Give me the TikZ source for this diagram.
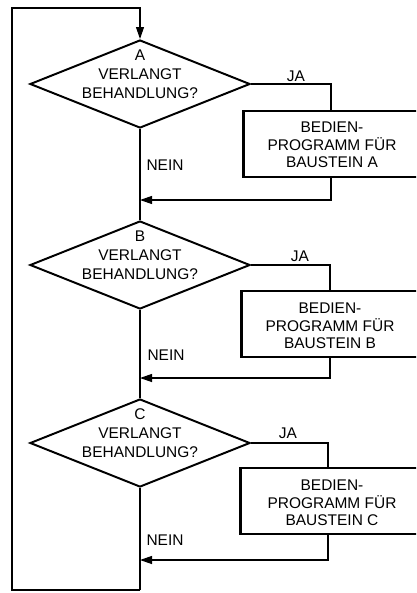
\documentclass[tikz,border=0pt]{standalone}
\usepackage{fontspec}
\setmainfont{Liberation Sans}
\usetikzlibrary{shapes.geometric,arrows.meta}

\begin{document}
\begin{tikzpicture}[
        x=0.025cm, y=-0.025cm,
        every node/.style={font=\fontsize{11}{12.5}\selectfont, align=center},
        decision/.style={draw, diamond, line width=1.4pt, minimum width=5.5cm, minimum height=2.2cm, inner sep=0pt},
        question/.style={font=\fontsize{11}{13.5}\selectfont},
        routine/.style={draw, rectangle, line width=2pt, minimum width=8cm, minimum height=1.65cm, anchor=west},
        flow/.style={draw, line width=0.85pt},
        into/.style={flow, -{Triangle[length=0.3cm, width=0.2cm]}},
    ]
    \useasboundingbox (0,0) rectangle (416,593);
    \clip (0,0) rectangle (416,593);

    % decisions
    \node[decision](qa) at (140,84){};
    \node[question](qatext) at (140,74){A\\VERLANGT\\BEHANDLUNG?};
    \node[decision](qb) at (140,265){};
    \node[question](qbtext) at (140,255){B\\VERLANGT\\BEHANDLUNG?};
    \node[decision](qc) at (140,443){};
    \node[question](qctext) at (140,433){C\\VERLANGT\\BEHANDLUNG?};

    % routines (right side runs off the page)
    \node[routine](ra) at (242,144){};
    \node(ratext) at (332,145){BEDIEN-\\PROGRAMM FÜR\\BAUSTEIN A};
    \node[routine](rb) at (240,324){};
    \node(rbtext) at (330,326){BEDIEN-\\PROGRAMM FÜR\\BAUSTEIN B};
    \node[routine](rc) at (239,501){};
    \node(rctext) at (332,503){BEDIEN-\\PROGRAMM FÜR\\BAUSTEIN C};

    % labels
    \node(jaa) at (296,76){JA};
    \node(jab) at (300,256){JA};
    \node(jac) at (288,433){JA};
    \node(neina) at (165,165){NEIN};
    \node(neinb) at (166,355){NEIN};
    \node(neinc) at (165,540){NEIN};

    \coordinate(joina) at (140,200);
    \coordinate(joinb) at (140,378);
    \coordinate(joinc) at (140,560);
    \coordinate(bottom) at (140,590);
    \coordinate(loop) at (12,8);
    \coordinate(outa) at (331,111);
    \coordinate(outb) at (330,291);
    \coordinate(outc) at (328,468);

    % connectors
    \draw[into] (bottom) -| (loop) -| (qa.north);
    \draw[flow] (qa.south) -- (qb.north);
    \draw[flow] (qb.south) -- (qc.north);
    \draw[flow] (qc.south) -- (bottom);
    \draw[flow] (qa.east) -| (outa);
    \draw[flow] (qb.east) -| (outb);
    \draw[flow] (qc.east) -| (outc);
    \draw[into] (outa |- ra.south) |- (joina);
    \draw[into] (outb |- rb.south) |- (joinb);
    \draw[into] (outc |- rc.south) |- (joinc);

\end{tikzpicture}
\end{document}
